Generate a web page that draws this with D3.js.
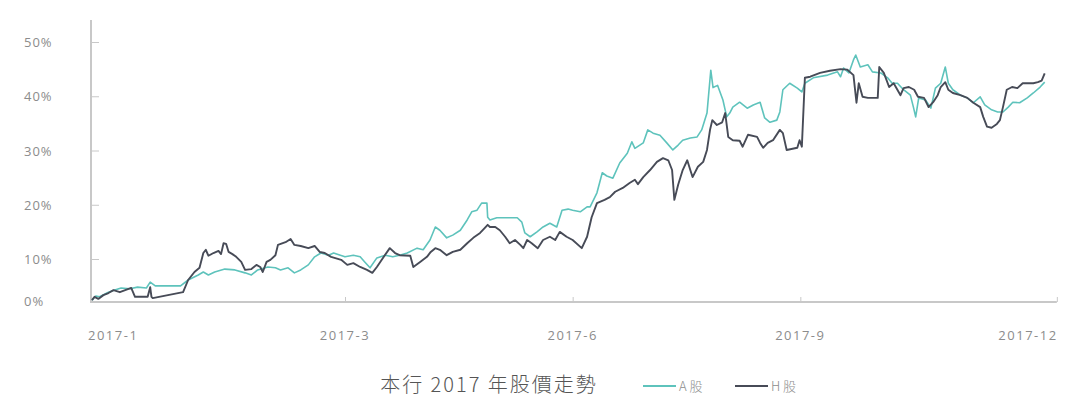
<!DOCTYPE html>
<html>
<head>
<meta charset="utf-8">
<script src="https://cdn.jsdelivr.net/npm/d3@7"></script>
<style>
  body { margin: 0; background: #fff; }
  svg { display: block; }
  text { font-family: "Open Sans", "Noto Sans", sans-serif; }
</style>
</head>
<body>
<svg id="chart"></svg>
<script>
// Datos: x en meses (1 = inicio de enero), y en %
var monthTicks = [1, 3, 6, 9, 12];
var tickLabels = ['2017-1', '2017-3', '2017-6', '2017-9', '2017-12'];
var yTicks = [0, 10, 20, 30, 40, 50];
var seriesNames = ['A 股', 'H 股'];

var aSeries = [
    [1.00, 0.2], [1.03, 1.2], [1.06, 1.0], [1.13, 2.1], [1.18, 2.6], [1.23, 3.1], [1.30, 2.9],
    [1.36, 3.3], [1.43, 3.1], [1.46, 4.5], [1.50, 3.6], [1.70, 3.6], [1.76, 5.0], [1.84, 6.2],
    [1.88, 6.9], [1.92, 6.2], [1.97, 6.9], [2.05, 7.6], [2.13, 7.4], [2.21, 6.7], [2.26, 6.2],
    [2.31, 7.4], [2.39, 8.1], [2.45, 7.9], [2.49, 7.4], [2.55, 7.9], [2.60, 6.7], [2.65, 7.4],
    [2.71, 8.6], [2.76, 10.4], [2.81, 11.1], [2.87, 10.7], [2.91, 11.1], [3.00, 10.4],
    [3.11, 10.7], [3.20, 10.4], [3.26, 9.3], [3.33, 7.9], [3.42, 10.2], [3.53, 10.7], [3.63, 10.4],
    [3.72, 10.7], [3.82, 11.1], [3.95, 12.0], [4.03, 11.7], [4.12, 13.5], [4.19, 15.9], [4.25, 15.3],
    [4.34, 13.9], [4.42, 14.4], [4.52, 15.3], [4.61, 17.2], [4.67, 18.7], [4.74, 19.0], [4.80, 20.3],
    [4.87, 20.3], [4.88, 17.7], [4.91, 17.2], [5.00, 17.6], [5.13, 17.6], [5.27, 17.6], [5.33, 16.8],
    [5.37, 14.8], [5.44, 14.1], [5.53, 15.0], [5.61, 15.9], [5.70, 16.6], [5.79, 15.9], [5.86, 19.0],
    [5.94, 19.2], [6.00, 19.0], [6.10, 18.7], [6.19, 19.6], [6.23, 19.6], [6.32, 22.2], [6.39, 25.9],
    [6.45, 25.3], [6.53, 24.9], [6.62, 27.7], [6.72, 29.5], [6.78, 31.6], [6.82, 30.4], [6.93, 31.4],
    [6.99, 33.8], [7.06, 33.2], [7.15, 32.8], [7.24, 31.4], [7.32, 30.1], [7.39, 31.0], [7.45, 31.9],
    [7.55, 32.3], [7.64, 32.5], [7.70, 33.8], [7.77, 36.9], [7.82, 44.8], [7.85, 41.6], [7.91, 42.0],
    [7.98, 39.3], [8.03, 36.2], [8.07, 36.9], [8.11, 38.0], [8.20, 38.9], [8.30, 37.8], [8.38, 38.4],
    [8.47, 38.9], [8.53, 36.0], [8.60, 35.2], [8.69, 35.6], [8.73, 37.1], [8.77, 41.2], [8.86, 42.4],
    [8.96, 41.5], [9.02, 40.8], [9.06, 42.4], [9.17, 43.4], [9.36, 43.9], [9.49, 44.5], [9.53, 43.6],
    [9.57, 45.2], [9.64, 44.3], [9.70, 46.7], [9.73, 47.6], [9.79, 45.4], [9.89, 45.8], [9.95, 44.5],
    [10.06, 44.3], [10.15, 43.4], [10.21, 42.4], [10.28, 42.4], [10.36, 41.2], [10.45, 40.2],
    [10.49, 38.0], [10.52, 36.2], [10.56, 39.7], [10.65, 39.3], [10.72, 37.8], [10.78, 41.5],
    [10.85, 42.4], [10.91, 45.4], [10.95, 42.4], [11.01, 41.2], [11.11, 40.2], [11.20, 39.7],
    [11.28, 38.8], [11.37, 39.9], [11.43, 38.4], [11.52, 37.5], [11.60, 37.1], [11.67, 37.1],
    [11.74, 38.0], [11.80, 38.9], [11.89, 38.8], [11.99, 39.7], [12.07, 40.6], [12.16, 41.7],
    [12.22, 42.6]
];

var hSeries = [
    [1.00, 0.2], [1.02, 1.0], [1.05, 0.5], [1.09, 1.4], [1.13, 1.9], [1.17, 2.6], [1.22, 2.1],
    [1.31, 3.1], [1.34, 1.0], [1.44, 1.0], [1.46, 3.3], [1.47, 1.0], [1.48, 0.7], [1.72, 2.1],
    [1.76, 5.0], [1.81, 6.9], [1.85, 7.9], [1.88, 11.1], [1.90, 11.7], [1.92, 10.6], [1.96, 11.1],
    [2.00, 11.5], [2.02, 10.9], [2.04, 12.9], [2.06, 12.8], [2.08, 11.3], [2.11, 10.9], [2.14, 10.4],
    [2.18, 9.3], [2.21, 7.4], [2.26, 7.6], [2.30, 8.6], [2.33, 8.1], [2.35, 6.9], [2.38, 9.3],
    [2.41, 9.8], [2.45, 10.7], [2.47, 12.6], [2.53, 13.1], [2.57, 13.7], [2.60, 12.6], [2.65, 12.4],
    [2.71, 12.0], [2.76, 12.4], [2.80, 11.3], [2.84, 11.1], [2.89, 10.4], [2.97, 9.8], [3.03, 8.6],
    [3.11, 9.0], [3.20, 8.1], [3.29, 7.4], [3.36, 6.7], [3.42, 8.1], [3.50, 10.2], [3.59, 12.0],
    [3.66, 11.1], [3.72, 10.7], [3.86, 10.6], [3.90, 8.1], [3.99, 9.3], [4.08, 10.4], [4.13, 11.3],
    [4.19, 12.0], [4.25, 11.7], [4.34, 10.7], [4.42, 11.3], [4.52, 11.7], [4.61, 12.9], [4.69, 13.9],
    [4.78, 14.8], [4.84, 15.7], [4.88, 16.3], [4.91, 15.9], [4.98, 15.9], [5.04, 15.3], [5.11, 14.1],
    [5.17, 12.9], [5.24, 13.5], [5.31, 12.6], [5.35, 12.0], [5.40, 13.5], [5.46, 12.9], [5.54, 12.0],
    [5.61, 13.5], [5.70, 14.1], [5.77, 13.5], [5.83, 15.0], [5.92, 14.1], [6.00, 13.5], [6.12, 12.0],
    [6.19, 14.1], [6.25, 17.7], [6.32, 20.3], [6.42, 20.9], [6.49, 21.4], [6.56, 22.4], [6.66, 23.1],
    [6.75, 24.0], [6.82, 24.6], [6.86, 23.8], [6.93, 25.1], [7.02, 26.4], [7.11, 27.9], [7.19, 28.6],
    [7.26, 28.2], [7.31, 26.4], [7.34, 20.9], [7.39, 23.7], [7.45, 26.4], [7.51, 28.2], [7.55, 26.4],
    [7.58, 25.1], [7.65, 27.0], [7.72, 27.9], [7.77, 30.1], [7.81, 33.8], [7.84, 35.6], [7.90, 34.7],
    [7.97, 35.2], [8.01, 36.9], [8.05, 32.5], [8.11, 31.9], [8.20, 31.8], [8.24, 30.7], [8.31, 32.9],
    [8.43, 32.5], [8.47, 31.4], [8.51, 30.5], [8.57, 31.4], [8.64, 31.9], [8.73, 33.8], [8.77, 33.2],
    [8.82, 30.1], [8.96, 30.5], [8.99, 31.9], [9.02, 30.7], [9.06, 43.4], [9.13, 43.6], [9.26, 44.3],
    [9.39, 44.7], [9.53, 45.0], [9.62, 44.9], [9.70, 43.9], [9.74, 38.8], [9.77, 42.4], [9.82, 39.9],
    [9.89, 39.7], [10.02, 39.7], [10.04, 45.4], [10.10, 44.3], [10.17, 41.7], [10.23, 42.4],
    [10.32, 40.2], [10.36, 41.5], [10.43, 41.7], [10.50, 41.2], [10.55, 39.9], [10.63, 39.7],
    [10.69, 38.0], [10.75, 38.9], [10.81, 40.2], [10.85, 41.7], [10.91, 42.6], [10.95, 41.2],
    [11.01, 40.6], [11.11, 40.2], [11.20, 39.7], [11.28, 38.8], [11.37, 38.0], [11.41, 36.2],
    [11.46, 34.4], [11.52, 34.2], [11.59, 34.9], [11.63, 35.6], [11.67, 38.0], [11.72, 41.2],
    [11.79, 41.7], [11.86, 41.5], [11.93, 42.4], [12.07, 42.4], [12.13, 42.6], [12.18, 42.9],
    [12.22, 44.2]
];

// Ajustes del canvas
var w = 1065,
    h = 406,
    xEnd = 12.38,
    colors = ['#5ec3bc', '#474b57'];

var svg = d3.select('#chart')
    .attr('width', w)
    .attr('height', h);

// escalas por tramos, el eje original no es uniforme
var xScale = d3.scaleLinear()
    .domain([1, 3, 12])
    .range([92, 345, 1028]);
var yScale = d3.scaleLinear()
    .domain([0, 10, 50])
    .range([301, 259, 42]);

// Ejes
var axisColor = '#c8c8c8',
    labelColor = '#8c8c8c';

var yAxis = svg.append('g')
    .attr('transform', 'translate(91,0)')
    .call(d3.axisRight(yScale)
        .tickValues(yTicks.slice(1))
        .tickSize(8)
        .tickFormat(''));
yAxis.select('.domain').remove();
yAxis.selectAll('line').attr('stroke', axisColor);

svg.append('line')
    .attr('x1', 91).attr('x2', 91)
    .attr('y1', 20).attr('y2', yScale(0) + 1)
    .attr('stroke', axisColor)
    .attr('stroke-width', 2);

svg.selectAll('.ylabel')
    .data(yTicks)
    .enter()
    .append('text')
    .attr('class', 'ylabel')
    .attr('x', 24)
    .attr('y', function(d) {
        return yScale(d) + 5;
    })
    .attr('font-size', 13)
    .attr('letter-spacing', 1)
    .attr('fill', labelColor)
    .text(function(d) {
        return d + '%';
    });

var xAxis = svg.append('g')
    .attr('transform', 'translate(0,' + (yScale(0) + 1) + ')')
    .call(d3.axisBottom(xScale)
        .tickValues(monthTicks.slice(1, 4).concat([xEnd]))
        .tickSize(-5)
        .tickFormat(''));
xAxis.select('.domain').remove();
xAxis.selectAll('line').attr('stroke', axisColor);

svg.append('line')
    .attr('x1', xScale(1) - 2).attr('x2', xScale(xEnd))
    .attr('y1', yScale(0) + 1).attr('y2', yScale(0) + 1)
    .attr('stroke', axisColor)
    .attr('stroke-width', 2);

svg.selectAll('.xlabel')
    .data(monthTicks)
    .enter()
    .append('text')
    .attr('class', 'xlabel')
    .attr('x', function(d, i) {
        return i === 0 ? xScale(d) - 4 : xScale(d);
    })
    .attr('y', 340)
    .attr('text-anchor', function(d, i) {
        return i === 0 ? 'start' : 'middle';
    })
    .attr('font-size', 13)
    .attr('letter-spacing', 1.5)
    .attr('fill', labelColor)
    .text(function(d, i) {
        return tickLabels[i];
    });

// Lineas
var line = d3.line()
    .x(function(d) { return xScale(d[0]); })
    .y(function(d) { return yScale(d[1]); });

svg.selectAll('.serie')
    .data([aSeries, hSeries])
    .enter()
    .append('path')
    .attr('class', 'serie')
    .attr('d', line)
    .attr('fill', 'none')
    .attr('stroke', function(d, i) { return colors[i]; })
    .attr('stroke-width', function(d, i) { return i === 0 ? 1.6 : 1.9; })
    .attr('stroke-linejoin', 'round');

// Titulo y leyenda
svg.append('text')
    .attr('x', 489)
    .attr('y', 392)
    .attr('text-anchor', 'middle')
    .attr('font-size', 20)
    .attr('letter-spacing', 2)
    .attr('fill', '#555')
    .style('font-family', '"Noto Sans CJK TC", sans-serif')
    .style('font-weight', 300)
    .text('本行 2017 年股價走勢');

var legend = svg.selectAll('.leg')
    .data(seriesNames)
    .enter()
    .append('g')
    .attr('class', 'leg')
    .attr('transform', function(d, i) {
        return 'translate(' + (643 + i * 92) + ',386)';
    });
legend.append('line')
    .attr('x1', 0).attr('x2', 33)
    .attr('stroke', function(d, i) { return colors[i]; })
    .attr('stroke-width', 2);
legend.append('text')
    .attr('x', 36)
    .attr('y', 5)
    .attr('font-size', 13)
    .attr('fill', labelColor)
    .style('font-family', '"Noto Sans CJK TC", sans-serif')
    .style('font-weight', 300)
    .text(function(d) { return d; });
</script>
</body>
</html>
